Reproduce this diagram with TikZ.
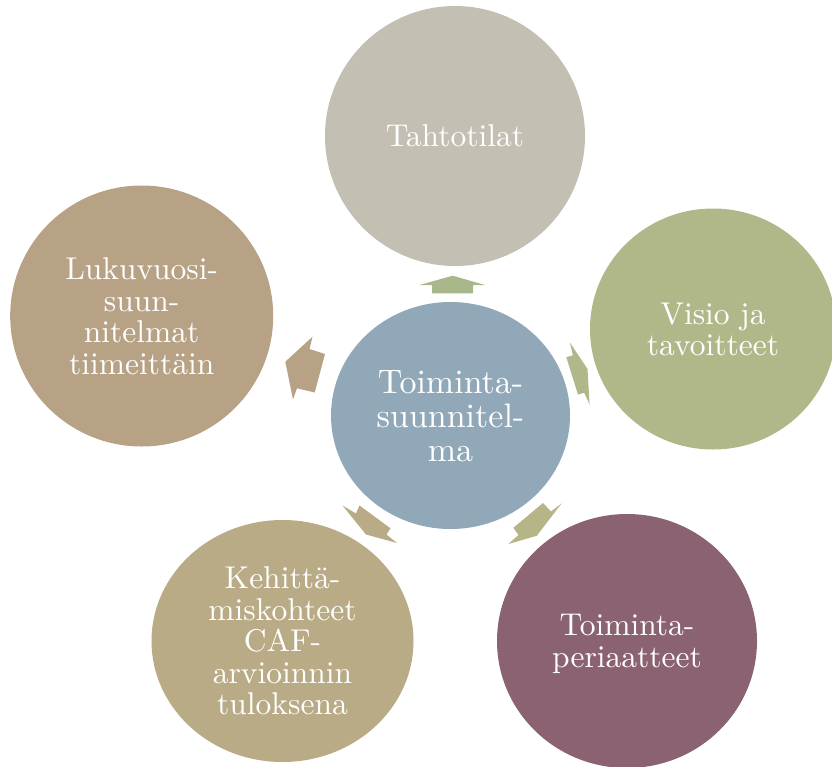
\documentclass[tikz,border=0pt]{standalone}
\usepackage{fontspec}
\setmainfont{lmroman10-regular.otf}
\usetikzlibrary{shapes.geometric}
\definecolor{cTop}{HTML}{C3BFB3}
\definecolor{cRight}{HTML}{B0B889}
\definecolor{cBR}{HTML}{8B6271}
\definecolor{cBL}{HTML}{B8AB85}
\definecolor{cLeft}{HTML}{B7A286}
\definecolor{cMid}{HTML}{91A8B8}
\definecolor{aTop}{HTML}{A8B88A}
\definecolor{aRight}{HTML}{B0B889}
\definecolor{aBR}{HTML}{B5B588}
\definecolor{aBL}{HTML}{B8AB86}
\definecolor{aLeft}{HTML}{B8A285}
\begin{document}
\begin{tikzpicture}[x=1pt,y=-1pt,
  bubble/.style={ellipse, inner sep=0pt, outer sep=0pt, text=white,
    align=center, text depth=0pt, font=\fontsize{31.5}{31.5}\selectfont},
  hub/.style={bubble, font=\fontsize{34}{34}\selectfont}]
\useasboundingbox (0,0) rectangle (832,766);
% circles
\node[bubble, fill=cTop, minimum width=260pt, minimum height=260pt] (tahto) at (455,136) {Tahtotilat};
\node[bubble, fill=cRight, minimum width=246pt, minimum height=241pt] (visio) at (713,329) {Visio ja\\tavoitteet};
\node[bubble, fill=cBR, minimum width=260pt, minimum height=254pt] (periaat) at (627,641) {Toiminta-\\periaatteet};
\node[bubble, fill=cBL, minimum width=262pt, minimum height=242pt] (kehitt) at (282.5,641) {Kehittä-\\miskohteet\\CAF-\\arvioinnin\\tuloksena};
\node[bubble, fill=cLeft, minimum width=263pt, minimum height=261pt] (lukuv) at (141.7,316) {Lukuvuosi-\\suun-\\nitelmat\\tiimeittäin};
\node[hub, fill=cMid, minimum width=239pt, minimum height=227pt] (toim) at (450.5,415.5) {Toiminta-\\suunnitel-\\ma};
% block arrows
\fill[aTop] (452.7,275.7) -- (485,285) -- (473,285) -- (473,293.3) -- (432,293.3) -- (432,285) -- (419.5,285) -- cycle;
\fill[aRight] (570,342.7) -- (587.5,369) -- (589.6,404.5) -- (584.2,392.7) -- (578,394.6) -- (566.3,357.2) -- (572.8,355.3) -- cycle;
\fill[aBR] (561.7,503.3) -- (551,511.5) -- (543,503) -- (513.3,527.8) -- (518.5,535) -- (508.3,544) -- (536.7,535.8) -- cycle;
\fill[aBL] (342.5,505.5) -- (356,513.5) -- (359.5,505.5) -- (390.5,528.3) -- (386.5,534.5) -- (397,543) -- (366,534.5) -- cycle;
\fill[aLeft] (312.5,336.7) -- (309.5,349) -- (325,354) -- (314.7,392.5) -- (297,388.3) -- (293,399.5) -- (285.3,361.7) -- cycle;
\end{tikzpicture}
\end{document}
